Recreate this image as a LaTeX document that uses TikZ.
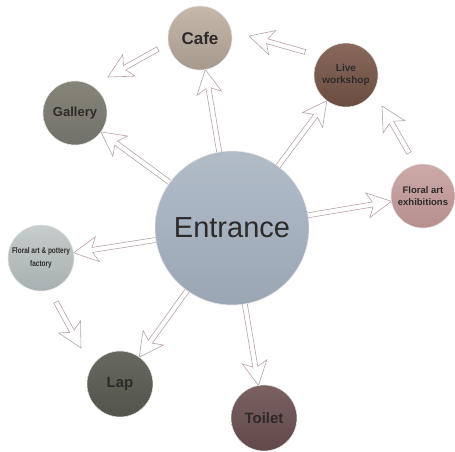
\documentclass[tikz,border=0pt]{standalone}
\usepackage{fontspec}
\setmainfont{Liberation Sans}
\newfontfamily\narrowsf[FakeStretch=0.78]{Liberation Sans}
\usetikzlibrary{calc,backgrounds}
\definecolor{txt}{HTML}{2E2A2A}
\definecolor{arr}{HTML}{B8A2A6}
\definecolor{entT}{HTML}{B2BCC9}\definecolor{entB}{HTML}{9BA6B5}
\definecolor{cafT}{HTML}{C6B9AC}\definecolor{cafB}{HTML}{A6988B}
\definecolor{galT}{HTML}{878579}\definecolor{galB}{HTML}{72716A}
\definecolor{livT}{HTML}{88695C}\definecolor{livB}{HTML}{6A4C40}
\definecolor{exhT}{HTML}{CDAAA9}\definecolor{exhB}{HTML}{B68E8E}
\definecolor{facT}{HTML}{C6CDCC}\definecolor{facB}{HTML}{A7B0B0}
\definecolor{lapT}{HTML}{67695F}\definecolor{lapB}{HTML}{53554C}
\definecolor{toiT}{HTML}{7B6162}\definecolor{toiB}{HTML}{614849}
\tikzset{
  spot/.style={circle, minimum size=#1, inner sep=0pt, draw=white!80!gray,
    line width=0.6pt, text=txt, font=\bfseries, align=center},
  fat/.style 2 args={draw=arr, line width=0.6pt, fill=white, to path={
    let \p1=(\tikztostart), \p2=(\tikztotarget),
        \n1={atan2(\y2-\y1,\x2-\x1)}, \n2={veclen(\x2-\x1,\y2-\y1)} in
    {[shift={(\p1)}, rotate=\n1]
      (#1,-2.5pt) -- (\n2-#2-19pt,-2.5pt) -- (\n2-#2-24pt,-12.5pt) -- (\n2-#2,0pt)
      -- (\n2-#2-24pt,12.5pt) -- (\n2-#2-19pt,2.5pt) -- (#1,2.5pt) -- cycle}
  }},
}
\begin{document}
\begin{tikzpicture}[x=1pt,y=-1pt]
\useasboundingbox (0,0) rectangle (455,451);
\node[spot=154pt, top color=entT, bottom color=entB, font=\fontsize{29}{32}\selectfont] (ent) at (232,228) {Entrance};
\node[spot=64pt, top color=cafT, bottom color=cafB, font=\bfseries\fontsize{17}{20}\selectfont] (cafe) at (200,38) {Cafe};
\node[spot=64pt, top color=galT, bottom color=galB, font=\bfseries\fontsize{13}{16}\selectfont] (gal) at (75,113) {Gallery};
\node[spot=64pt, top color=livT, bottom color=livB, font=\bfseries\fontsize{10}{12.5}\selectfont] (live) at (346,75) {Live\\workshop};
\node[spot=64pt, top color=exhT, bottom color=exhB, font=\bfseries\fontsize{9.5}{12.5}\selectfont] (exh) at (423,196) {Floral art\\exhibitions};
\node[spot=66pt, top color=facT, bottom color=facB, font=\narrowsf\bfseries\fontsize{8.3}{13}\selectfont] (fac) at (41,258) {Floral art \& pottery\\factory};
\node[spot=66pt, top color=lapT, bottom color=lapB, font=\bfseries\fontsize{15}{18}\selectfont] (lap) at (120,384) {Lap};
\node[spot=66pt, top color=toiT, bottom color=toiB, font=\bfseries\fontsize{15}{18}\selectfont] (toi) at (264,418) {Toilet};
\coordinate (f1s) at (305,52); \coordinate (f1e) at (249,36);
\coordinate (f2s) at (158,49); \coordinate (f2e) at (108,77);
\coordinate (f3s) at (409,153); \coordinate (f3e) at (382,106);
\coordinate (f4s) at (56,302); \coordinate (f4e) at (81,348);
\begin{scope}[on background layer]
\path[fat={0pt}{32pt}] (ent) to (cafe);
\path[fat={0pt}{32pt}] (ent) to (gal);
\path[fat={0pt}{32pt}] (ent) to (live);
\path[fat={0pt}{32pt}] (ent) to (exh);
\path[fat={0pt}{33pt}] (ent) to (fac);
\path[fat={0pt}{33pt}] (ent) to (lap);
\path[fat={0pt}{33pt}] (ent) to (toi);
\path[fat={0pt}{0pt}] (f1s) to (f1e);
\path[fat={0pt}{0pt}] (f2s) to (f2e);
\path[fat={0pt}{0pt}] (f3s) to (f3e);
\path[fat={0pt}{0pt}] (f4s) to (f4e);
\end{scope}
\end{tikzpicture}
\end{document}
